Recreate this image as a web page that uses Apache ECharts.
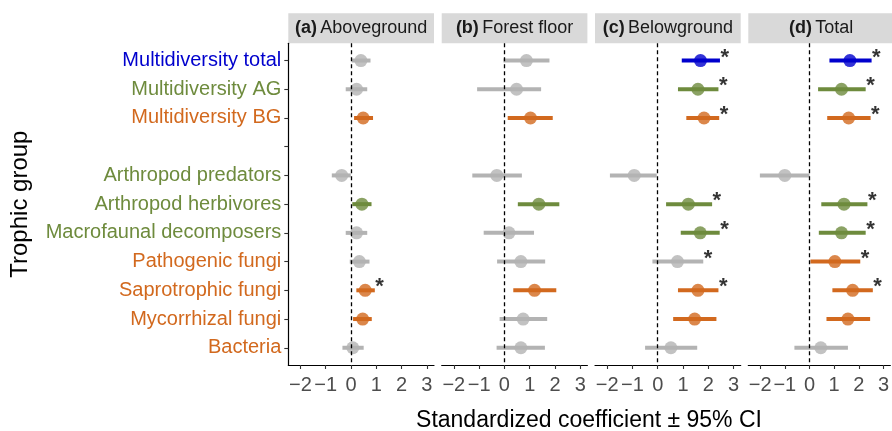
<!DOCTYPE html>
<html>
<head>
<meta charset="utf-8">
<script src="https://cdn.jsdelivr.net/npm/echarts@6/dist/echarts.min.js"></script>
<style>
html,body{margin:0;padding:0;background:#fff;}
#chart{width:892px;height:431px;}
</style>
</head>
<body>
<div id="chart"></div>
<script>
// ---------- DATA ----------
const categories = ['Multidiversity total','Multidiversity AG','Multidiversity BG','','Arthropod predators','Arthropod herbivores','Macrofaunal decomposers','Pathogenic fungi','Saprotrophic fungi','Mycorrhizal fungi','Bacteria'];
const labelGroup = ['total','ag','bg',null,'ag','ag','ag','bg','bg','bg','bg'];
const panelLetters = ['(a)','(b)','(c)','(d)'];
const panelNames = ['Aboveground','Forest floor','Belowground','Total'];
const xTicks = [-2,-1,0,1,2,3];

const aEst = [0.39,0.22,0.48,null,-0.37,0.43,0.22,0.33,0.56,0.46,0.07];
const aLo  = [0.03,-0.21,0.12,null,-0.76,0.05,-0.21,-0.05,0.21,0.08,-0.34];
const aHi  = [0.77,0.64,0.87,null,-0.01,0.81,0.64,0.73,0.94,0.82,0.50];
const aCol = ['ns','ns','bg',null,'ns','ag','ns','ns','bg','bg','ns'];
const aStar= [0,0,0,0,0,0,0,0,1,0,0];

const bEst = [0.87,0.48,1.03,null,-0.30,1.36,0.18,0.65,1.19,0.74,0.65];
const bLo  = [-0.04,-1.08,0.13,null,-1.27,0.53,-0.82,-0.29,0.35,-0.19,-0.31];
const bHi  = [1.78,1.45,1.91,null,0.69,2.17,1.17,1.61,2.05,1.69,1.60];
const bCol = ['ns','ns','bg',null,'ns','ag','ns','ns','bg','ns','ns'];
const bStar= [0,0,0,0,0,0,0,0,0,0,0];

const cEst = [1.69,1.59,1.83,null,-0.93,1.21,1.68,0.78,1.59,1.46,0.52];
const cLo  = [0.95,0.80,1.13,null,-1.89,0.33,0.91,-0.21,0.80,0.61,-0.50];
const cHi  = [2.46,2.40,2.43,null,-0.04,2.15,2.45,1.80,2.40,2.32,1.56];
const cCol = ['total','ag','bg',null,'ns','ag','ag','ns','bg','bg','ns'];
const cStar= [1,1,1,0,0,1,1,1,1,0,0];

const dEst = [1.64,1.30,1.59,null,-1.00,1.40,1.30,1.03,1.75,1.56,0.46];
const dLo  = [0.81,0.35,0.72,null,-2.01,0.48,0.38,0.04,0.93,0.69,-0.61];
const dHi  = [2.52,2.28,2.48,null,0.00,2.35,2.28,2.06,2.57,2.46,1.56];
const dCol = ['total','ag','bg',null,'ns','ag','ag','bg','bg','bg','ns'];
const dStar= [1,1,1,0,0,1,1,1,1,0,0];

// ---------- STYLE / LAYOUT ----------
const COLORS = {total:'#0000CD', ag:'#6E8B3D', bg:'#D2691E', ns:'#B3B3B3'};
const FONT = "'Liberation Sans', Arial, Helvetica, sans-serif";
const PANEL_LEFT = [288.3, 441.7, 595, 748.3];
const PANEL_W = 145.7, PANEL_TOP = 43.3, PANEL_H = 321.7;
const STRIP_TOP = 13.3, STRIP_H = 30;
const X_MIN = -2.48, X_MAX = 3.28;

const panels = [
  {est:aEst, lo:aLo, hi:aHi, col:aCol, star:aStar},
  {est:bEst, lo:bLo, hi:bHi, col:bCol, star:bStar},
  {est:cEst, lo:cLo, hi:cHi, col:cCol, star:cStar},
  {est:dEst, lo:dLo, hi:dHi, col:dCol, star:dStar}
];

const fmtMinus = v => (v < 0 ? '\u2212' + Math.abs(v) : String(v));

const grids = [], xAxes = [], yAxes = [], series = [], graphics = [];
const yIdx = categories.map((_, i) => i);

panels.forEach((p, k) => {
  grids.push({left: PANEL_LEFT[k], top: PANEL_TOP, width: PANEL_W, height: PANEL_H, containLabel: false});
  xAxes.push({
    type: 'value', gridIndex: k, min: X_MIN, max: X_MAX,
    axisLine: {show: true, onZero: false, lineStyle: {color: '#000', width: 1.2}},
    axisTick: {show: true, length: 4, customValues: xTicks, lineStyle: {color: '#333', width: 1.1}},
    axisLabel: {show: true, customValues: xTicks, formatter: fmtMinus, fontSize: 20, color: '#4D4D4D', fontFamily: FONT, margin: 10, showMinLabel: true, showMaxLabel: true},
    splitLine: {show: false}
  });
  const richStyles = {};
  Object.keys(COLORS).forEach(g => { richStyles[g] = {color: COLORS[g], fontSize: 20, fontFamily: FONT}; });
  yAxes.push({
    type: 'value', gridIndex: k, min: -0.6, max: 10.6, inverse: true,
    axisLine: {show: k === 0, onZero: false, lineStyle: {color: '#000', width: 1.2}},
    axisTick: {show: k === 0, length: 4, customValues: yIdx, lineStyle: {color: '#333', width: 1.1}},
    axisLabel: {
      show: k === 0, customValues: yIdx, margin: 7, fontFamily: FONT, fontSize: 20,
      formatter: v => { const i = Math.round(v); const g = labelGroup[i]; return g ? '{' + g + '|' + categories[i] + '}' : ''; },
      rich: richStyles
    },
    splitLine: {show: false},
    name: k === 0 ? 'Trophic group' : '',
    nameLocation: 'middle', nameRotate: 90, nameGap: 256,
    nameTextStyle: {fontSize: 24, color: '#000', fontFamily: FONT}
  });

  // zero reference line
  series.push({
    type: 'scatter', xAxisIndex: k, yAxisIndex: k, data: [], z: 1, silent: true,
    markLine: {
      silent: true, symbol: ['none','none'], label: {show: false},
      lineStyle: {color: '#000', type: [4,3], width: 1.3},
      data: [{xAxis: 0}]
    }
  });

  const barData = [], barCols = [], ptData = [], starData = [];
  p.est.forEach((e, i) => {
    if (e === null) return;
    barData.push([p.lo[i], p.hi[i], i]);
    barCols.push(COLORS[p.col[i]]);
    ptData.push({value: [e, i], itemStyle: {color: COLORS[p.col[i]]}});
    if (p.star[i]) starData.push([p.hi[i], i]);
  });

  series.push({
    type: 'custom', xAxisIndex: k, yAxisIndex: k, z: 2, silent: true,
    encode: {x: [0, 1], y: 2},
    data: barData,
    renderItem: (params, api) => {
      const a = api.coord([api.value(0), api.value(2)]);
      const b = api.coord([api.value(1), api.value(2)]);
      return {type: 'line', shape: {x1: a[0], y1: a[1], x2: b[0], y2: b[1]},
              style: {stroke: barCols[params.dataIndex], lineWidth: 4, lineCap: 'butt'}};
    }
  });
  series.push({
    type: 'scatter', xAxisIndex: k, yAxisIndex: k, z: 3, silent: true,
    symbol: 'circle', symbolSize: 13, data: ptData
  });
  series.push({
    type: 'scatter', xAxisIndex: k, yAxisIndex: k, z: 4, silent: true,
    symbol: 'circle', symbolSize: 1, itemStyle: {color: 'rgba(0,0,0,0)'},
    data: starData,
    label: {show: true, formatter: '*', position: 'right', distance: 0, offset: [0, -3],
            fontSize: 22, fontWeight: 'bold', color: '#000', fontFamily: FONT}
  });

  // strip header
  graphics.push({
    type: 'rect', left: PANEL_LEFT[k], top: STRIP_TOP, silent: true,
    shape: {width: PANEL_W, height: STRIP_H}, style: {fill: '#D9D9D9'}
  });
  graphics.push({
    type: 'text', x: PANEL_LEFT[k] + PANEL_W / 2, y: STRIP_TOP + STRIP_H / 2, silent: true,
    style: {
      text: '{b|' + panelLetters[k] + '} {n|' + panelNames[k] + '}',
      align: 'center', verticalAlign: 'middle',
      rich: {
        b: {fontSize: 18, fontWeight: 'bold', fill: '#1A1A1A', fontFamily: FONT},
        n: {fontSize: 18, fill: '#1A1A1A', fontFamily: FONT}
      }
    }
  });
});

graphics.push({
  type: 'text', x: 589, y: 421, silent: true,
  style: {text: 'Standardized coefficient \u00B1 95% CI', align: 'center', verticalAlign: 'middle',
          fontSize: 23, fill: '#000', fontFamily: FONT}
});

const chart = echarts.init(document.getElementById('chart'), null, {renderer: 'canvas'});
chart.setOption({
  animation: false,
  backgroundColor: '#fff',
  grid: grids, xAxis: xAxes, yAxis: yAxes, series: series, graphic: graphics
});
</script>
</body>
</html>
